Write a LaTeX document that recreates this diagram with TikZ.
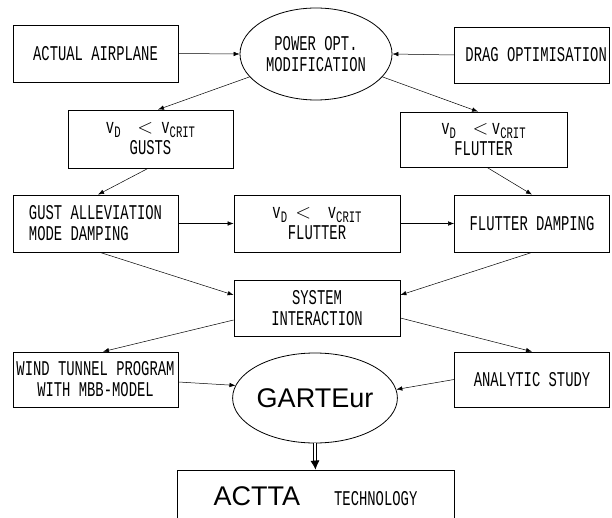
\documentclass[tikz,border=0pt]{standalone}
\usepackage{fontspec}
\usetikzlibrary{shapes.geometric,arrows.meta}
\newfontfamily\tw[FakeStretch=0.66]{Liberation Mono}
\newfontfamily\hv{Liberation Sans}
\newcommand\twsize{\fontsize{21}{21}\selectfont}
\newcommand\vs[1]{v\raisebox{-4pt}{\fontsize{16}{16}\selectfont #1}}
\begin{document}
\begin{tikzpicture}[x=1pt,y=-1pt,
 bx/.style={draw, line width=0.8pt, inner sep=0pt, font=\tw\twsize, align=center},
 el/.style={draw, ellipse, line width=0.8pt, inner sep=0pt, font=\tw\twsize, align=center},
 arr/.style={-{Latex[length=6pt,width=4.5pt]}, line width=0.5pt}]
\useasboundingbox (0,0) rectangle (612,518);
\clip (0,0) rectangle (612,518);
% nodes
\node[bx, minimum width=165pt, minimum height=57pt] (act) at (95.5,53.5) {ACTUAL AIRPLANE};
\node[el, minimum width=152pt, minimum height=92pt] (pwr) at (316,54) {POWER OPT.\\MODIFICATION};
\node[bx, minimum width=155pt, minimum height=56pt] (drag) at (532,55) {\ DRAG OPTIMISATION};
\node[bx, minimum width=165pt, minimum height=58pt] (gusts) at (150.5,139) {\vs{D}\ \ $<$\ \vs{CRIT}\\GUSTS};
\node[bx, minimum width=167pt, minimum height=55pt] (flut1) at (483.5,139.5) {\vs{D}\ \ $<$\,\vs{CRIT}\\FLUTTER};
\node[bx, minimum width=165pt, minimum height=57pt, align=left] (gal) at (95.5,223.5) {GUST ALLEVIATION\\MODE DAMPING\hphantom{MMMM}};
\node[bx, minimum width=166pt, minimum height=57pt] (flut2) at (317,223.5) {\vs{D}\ $<$\ \ \vs{CRIT}\\FLUTTER};
\node[bx, minimum width=155pt, minimum height=57pt] (fdamp) at (532,223.5) {FLUTTER DAMPING};
\node[bx, minimum width=166pt, minimum height=56pt] (sys) at (317,308) {SYSTEM\\INTERACTION};
\node[bx, minimum width=165pt, minimum height=55pt] (wind) at (95.5,379.5) {WIND TUNNEL PROGRAM\\WITH MBB-MODEL};
\node[bx, minimum width=155pt, minimum height=55pt] (anal) at (532,379.5) {ANALYTIC STUDY};
\node[el, minimum width=156pt, minimum height=90pt, font=\hv\fontsize{27}{27}\selectfont] (gart) at (315,398) {GARTEur};
\node[bx, minimum width=277pt, minimum height=56pt] (actta) at (315.5,498) {\raisebox{4pt}{{\hv\fontsize{27}{27}\selectfont ACTTA}\hspace{34pt}TECHNOLOGY}};
\coordinate (dm) at ([yshift=-18pt]gart.south);
% connectors
\draw[arr] (act.east) -- (pwr.west);
\draw[arr] (drag.west) -- (pwr.east);
\draw[arr] (pwr.199) -- ([xshift=7.5pt]gusts.north);
\draw[arr] (pwr.-19) -- ([xshift=-5.5pt]flut1.north);
\draw[arr] ([xshift=-2.5pt]gusts.south) -- ([xshift=2.5pt]gal.north);
\draw[arr] ([xshift=3.5pt]flut1.south) -- (fdamp.north);
\draw[arr] (gal.east) -- (flut2.west);
\draw[arr] (flut2.east) -- (fdamp.west);
\draw[arr] ([xshift=4.5pt]gal.south) -- ([yshift=13pt]sys.west);
\draw[arr] (fdamp.south) -- ([yshift=13pt]sys.east);
\draw[arr] ([yshift=-12pt]sys.west) -- ([xshift=7.5pt]wind.north);
\draw[arr] ([yshift=-10pt]sys.east) -- (anal.north);
\draw[arr] ([yshift=-2.5pt]wind.east) -- (gart.171);
\draw[arr] (anal.west) -- (gart.6);
\draw[double, double distance=2.2pt, line width=0.6pt] (gart.south) -- (dm);
\draw[-{Latex[length=9pt,width=9pt]}, line width=0.6pt] (dm) -- (actta.north);
\end{tikzpicture}
\end{document}
